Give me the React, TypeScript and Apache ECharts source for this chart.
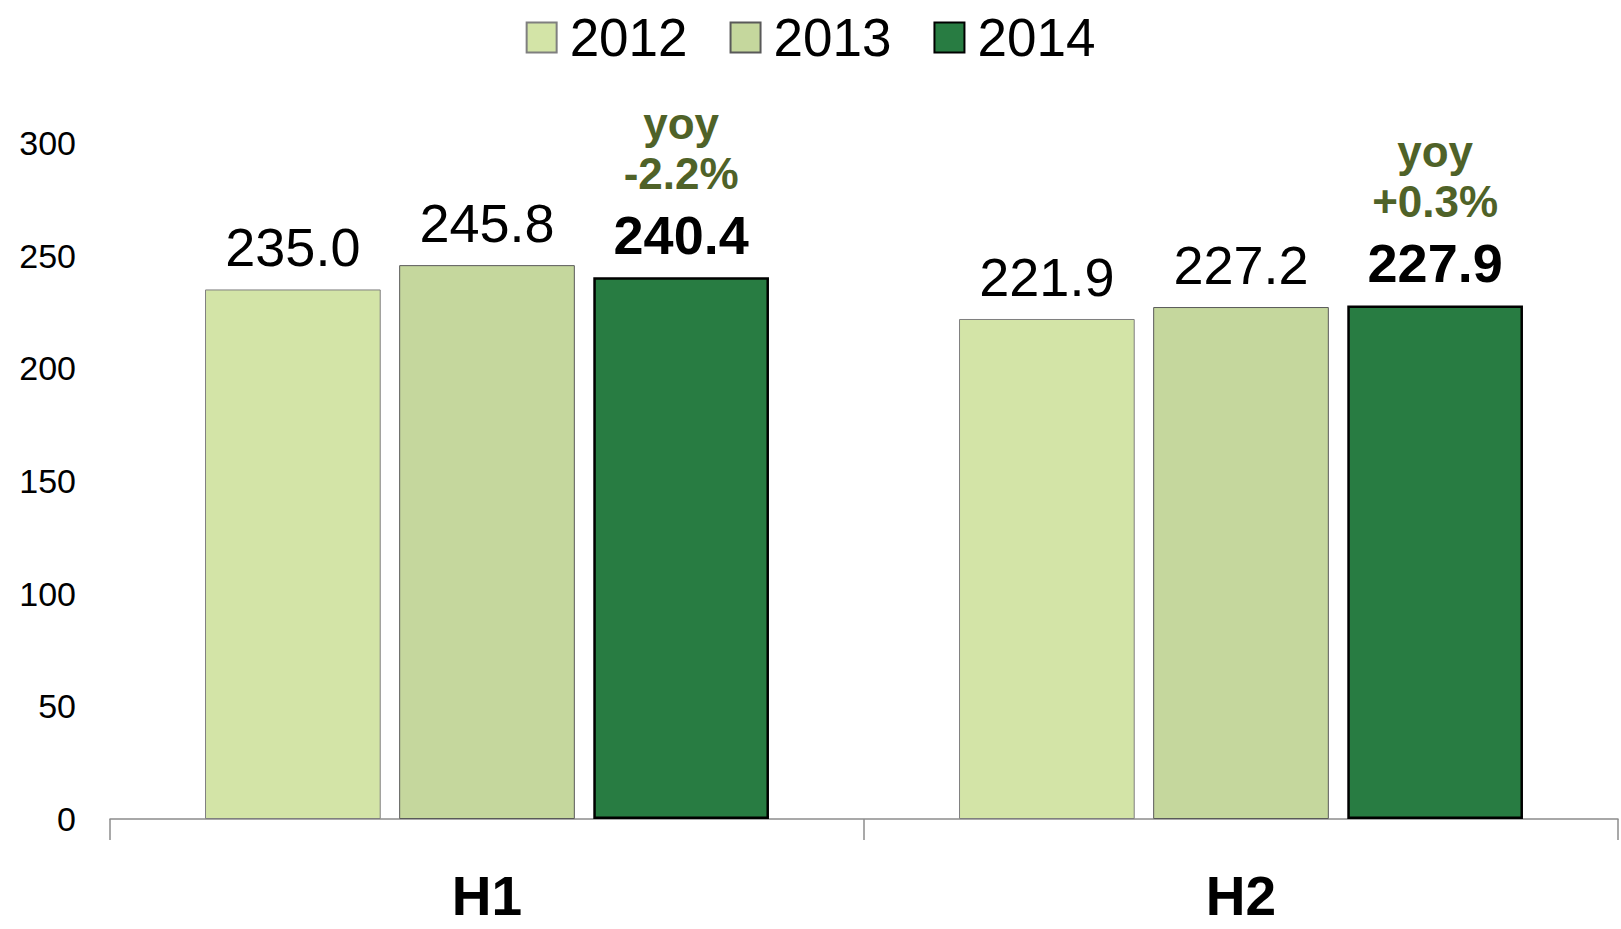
import React, { useEffect, useRef } from "react";
import * as echarts from "echarts";

const categories = ["H1", "H2"];
const years = ["2012", "2013", "2014"];
const values2012 = [235.0, 221.9];
const values2013 = [245.8, 227.2];
const values2014 = [240.4, 227.9];
const yoyLabels = ["-2.2%", "+0.3%"];
const yMin = 0;
const yMax = 300;
const yInterval = 50;

const FONT = "Liberation Sans";

export default function App() {
  const ref = useRef<HTMLDivElement>(null);
  useEffect(() => {
    if (!ref.current) return;
    const chart = echarts.init(ref.current, null, { renderer: "svg" });
    const plainLabel = {
      show: true,
      position: "top",
      distance: 5,
      fontFamily: FONT,
      fontSize: 54,
      lineHeight: 74,
      color: "#000",
      formatter: (p: any) => Number(p.value).toFixed(1),
    };
    chart.setOption({
      animation: false,
      backgroundColor: "#fff",
      textStyle: { fontFamily: FONT },
      legend: {
        top: 6,
        left: "center",
        itemWidth: 30,
        itemHeight: 30,
        itemGap: 42,
        icon: "rect",
        data: years,
        textStyle: { fontFamily: FONT, fontSize: 53, color: "#000", padding: [0, 0, 0, 8] },
      },
      grid: { left: 110, right: 3, top: 143, bottom: 110, containLabel: false },
      xAxis: {
        type: "category",
        data: categories,
        axisLine: { lineStyle: { color: "#8c8c8c", width: 1.5 } },
        axisTick: { show: true, length: 21, lineStyle: { color: "#8c8c8c", width: 1.5 } },
        axisLabel: {
          margin: 46,
          fontFamily: FONT,
          fontSize: 55,
          lineHeight: 62,
          fontWeight: "bold",
          color: "#000",
        },
      },
      yAxis: {
        type: "value",
        min: yMin,
        max: yMax,
        interval: yInterval,
        splitLine: { show: false },
        axisLine: { show: false },
        axisTick: { show: false },
        axisLabel: { margin: 34, fontFamily: FONT, fontSize: 34, color: "#000" },
      },
      series: [
        {
          name: years[0],
          type: "bar",
          data: values2012,
          barWidth: "23.3%",
          barGap: "10.5%",
          itemStyle: { color: "#d3e4a7", borderColor: "#7f7f7f", borderWidth: 1 },
          label: plainLabel,
        },
        {
          name: years[1],
          type: "bar",
          data: values2013,
          barWidth: "23.3%",
          barGap: "10.5%",
          itemStyle: { color: "#c5d79d", borderColor: "#595959", borderWidth: 1 },
          label: plainLabel,
        },
        {
          name: years[2],
          type: "bar",
          data: values2014,
          barWidth: "23.3%",
          barGap: "10.5%",
          itemStyle: { color: "#287c42", borderColor: "#000", borderWidth: 2.5 },
          label: {
            show: true,
            position: "top",
            distance: 5,
            fontFamily: FONT,
            formatter: (p: any) =>
              `{y|yoy}\n{y|${yoyLabels[p.dataIndex]}}\n{v|${Number(p.value).toFixed(1)}}`,
            rich: {
              y: {
                fontFamily: FONT,
                fontSize: 44,
                fontWeight: "bold",
                color: "#4f6228",
                lineHeight: 50,
              },
              v: {
                fontFamily: FONT,
                fontSize: 54,
                fontWeight: "bold",
                color: "#000",
                lineHeight: 74,
              },
            },
          },
        },
      ],
    });
    return () => chart.dispose();
  }, []);
  return (
    <div
      ref={ref}
      style={{ position: "fixed", left: 0, top: 0, width: 1621, height: 929 }}
    />
  );
}
